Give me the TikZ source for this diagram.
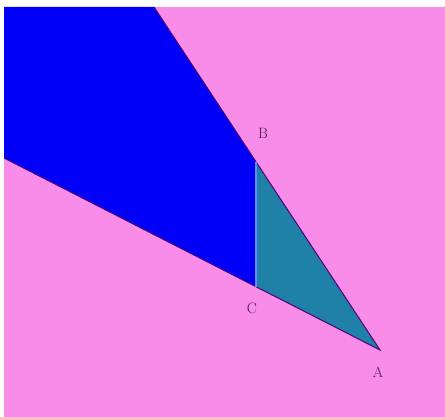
\documentclass[tikz,border=0pt]{standalone}
\usepackage{tikz}
\usetikzlibrary{calc}
\definecolor{backpink}{HTML}{F88CE8}
\definecolor{wedgeblue}{HTML}{0000FA}
\definecolor{trifill}{HTML}{1F80A8}
\definecolor{segline}{HTML}{5A90FF}
\definecolor{edgedark}{HTML}{500078}
\definecolor{labeltext}{HTML}{4A1848}
\tikzset{ptlabel/.style={text=labeltext,font=\fontsize{15}{17}\selectfont,inner sep=0pt}}

\begin{document}
\begin{tikzpicture}[x=1pt,y=-1pt]
        \useasboundingbox (0,0) rectangle (445,417);
        \fill[backpink] (4,7) rectangle (445,417);
        \coordinate (A) at (380,350);
        \coordinate (B) at (256,162);
        \coordinate (C) at (256,287);
        \coordinate (top) at (154,7);
        \coordinate (left) at (4,158);
        \fill[wedgeblue] (B) -- (top) -- (4,7) -- (left) -- (C) -- cycle;
        \fill[trifill] (A) -- (B) -- (C) -- cycle;
        \draw[edgedark,line width=1] (top) -- (A) -- (left);
        \draw[segline,line width=2] (B) -- (C);
        \node[ptlabel] (labA) at (378,372) {A};
        \node[ptlabel] (labB) at (263,133) {B};
        \node[ptlabel] (labC) at (252,308) {C};
      \end{tikzpicture}
\end{document}
